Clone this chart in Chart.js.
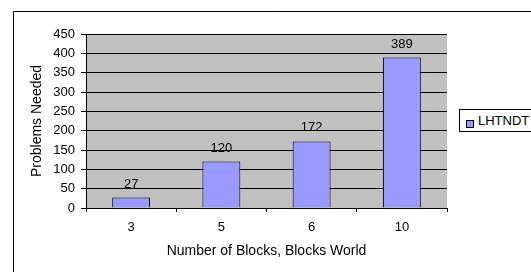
<!DOCTYPE html>
<html><head><meta charset="utf-8">
<script src="https://cdn.jsdelivr.net/npm/chart.js@4/dist/chart.umd.min.js"></script>
<style>
html,body{margin:0;padding:0;background:#fff;overflow:hidden}
#wrap{position:relative;width:531px;height:272px}
#c{position:absolute;left:0;top:0}
#legend{position:absolute;left:459px;top:109px;width:120px;height:23px;border:1px solid #000;box-sizing:border-box;background:#fff;font:13px "Liberation Sans",Arial,sans-serif;color:#000}
#legend .sw{position:absolute;left:6px;top:10px;width:8px;height:8px;border:1px solid #000;background:#9999FF;box-sizing:border-box}
#legend .tx{position:absolute;left:18px;top:3px;line-height:15px}
</style></head>
<body><div id="wrap"><canvas id="c" width="531" height="272"></canvas>
<div id="legend"><div class="sw"></div><div class="tx" id="legtx"></div></div></div>
<script>
const categories = ['3','5','6','10'];
const seriesName = 'LHTNDT';
const values = [27, 120, 172, 389];
const yTicks = [0,50,100,150,200,250,300,350,400,450];
const xTitle = 'Number of Blocks, Blocks World';
const yTitle = 'Problems Needed';

document.getElementById('legtx').textContent = seriesName;
const FAM = '"Liberation Sans", Arial, sans-serif';
const FONT = {family:FAM, size:13};
const TFONT = {family:FAM, size:14};

const bgPlugin = {
  id:'bg',
  beforeDraw(chart){
    const a = chart.chartArea, ctx = chart.ctx;
    ctx.save();
    ctx.strokeStyle = '#000'; ctx.lineWidth = 1;
    ctx.beginPath(); ctx.moveTo(13.5, chart.height); ctx.lineTo(13.5, 11.5); ctx.lineTo(chart.width, 11.5); ctx.stroke();
    ctx.fillStyle = '#C0C0C0';
    ctx.fillRect(a.left, a.top, a.right-a.left, a.bottom-a.top);
    ctx.restore();
  }
};
const labelPlugin = {
  id:'vals',
  afterDatasetsDraw(chart){
    const ctx = chart.ctx;
    const meta = chart.getDatasetMeta(0);
    ctx.save();
    ctx.font = '13px ' + FAM;
    ctx.fillStyle = '#000'; ctx.textAlign = 'center'; ctx.textBaseline = 'alphabetic';
    meta.data.forEach((el,i)=>{ ctx.fillText(String(values[i]), el.x, el.y - 10); });
    ctx.restore();
  }
};

new Chart(document.getElementById('c'), {
  type:'bar',
  data:{labels:categories, datasets:[{label:seriesName, data:values, backgroundColor:'#9999FF', borderColor:'#000', borderWidth:1, barPercentage:0.42, categoryPercentage:1}]},
  options:{
    responsive:false, animation:false,
    layout:{padding:{left:0, top:34, right:84, bottom:0}},
    plugins:{legend:{display:false}, tooltip:{enabled:false}},
    scales:{
      x:{
        grid:{display:true, drawOnChartArea:false, drawTicks:true, tickLength:4, color:'#000', offset:true},
        border:{display:true, color:'#000'},
        ticks:{color:'#000', font:FONT, padding:8},
        title:{display:true, text:xTitle, color:'#000', font:TFONT, padding:{top:4,bottom:12}},
        afterFit(s){ s.height = 64; }
      },
      y:{
        min:0, max:450,
        afterBuildTicks(s){ s.ticks = yTicks.map(v=>({value:v})); },
        grid:{color:'#000', tickLength:5, drawTicks:true},
        border:{display:true, color:'#000'},
        ticks:{color:'#000', font:FONT, padding:6},
        title:{display:true, text:yTitle, color:'#000', font:TFONT, padding:{top:29,bottom:0}},
        afterFit(s){ s.width = 86; }
      }
    }
  },
  plugins:[bgPlugin, labelPlugin]
});
</script></body></html>
